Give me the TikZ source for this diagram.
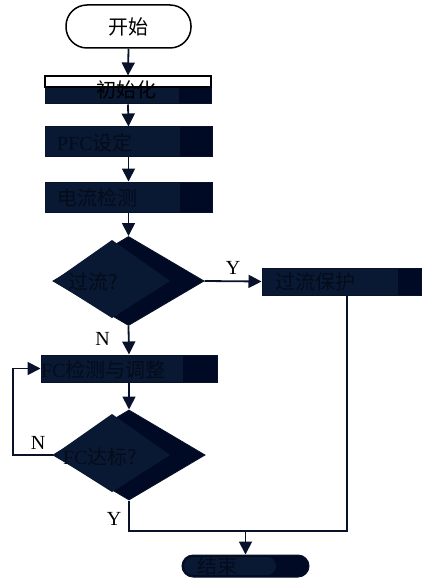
\documentclass[tikz,border=0pt]{standalone}
\usepackage{fontspec}
\setmainfont{Liberation Serif}
\newfontfamily\cjk{Noto Sans CJK SC}
\usetikzlibrary{arrows.meta,shapes.geometric}
\definecolor{darkB}{HTML}{000A24}
\definecolor{lightB}{HTML}{0A1933}
\definecolor{txtC}{HTML}{040B1A}
\definecolor{lineC}{HTML}{08122A}
\tikzset{
  arr/.style={draw=lineC, line width=1.8pt, -{Triangle[length=13pt,width=13pt]}},
  conn/.style={draw=lineC, line width=1.8pt},
  boxn/.style={draw=lineC, line width=1pt, rectangle, inner sep=0pt},
  dia/.style={draw=lineC, line width=1pt, diamond, inner sep=0pt, fill=darkB},
  txt/.style={text=txtC, inner sep=0pt, font=\fontsize{20}{24}\selectfont},
  lab/.style={text=black, inner sep=0pt, font=\fontsize{20}{24}\selectfont},
}
\begin{document}
\begin{tikzpicture}[x=1pt,y=-1pt]
\useasboundingbox (0,0) rectangle (424,580);
% start
\node[draw=black, line width=1.5pt, rounded corners=21pt, minimum width=125pt, minimum height=43pt, fill=white, inner sep=0pt,
  font=\fontsize{20}{24}\selectfont] (start) at (128.5,26.5) {\cjk 开始};
% init box
\fill[white] (45,76) rectangle (211,87);
\fill[darkB] (45,87) rectangle (211,104);
\fill[lightB] (45,87) rectangle (179,104);
\node[boxn, minimum width=166pt, minimum height=28pt] (init) at (128,90) {};
\draw[black, line width=1.2pt] (45,76) rectangle (211,87);
\node[txt, text=black] (tinit) at (126,90) {\cjk 初始化};
% PFC box
\fill[darkB] (45,127) rectangle (212,157);
\fill[lightB] (45,127) rectangle (180,157);
\node[boxn, minimum width=167pt, minimum height=30pt] (pfc) at (128.5,142) {};
\node[txt, anchor=west] (tpfc) at (57,143) {PFC\cjk 设定};
% current detect
\fill[darkB] (45,182) rectangle (212,212);
\fill[lightB] (45,182) rectangle (180,212);
\node[boxn, minimum width=167pt, minimum height=30pt] (cur) at (128.5,197) {};
\node[txt, anchor=west] (tcur) at (57,198) {\cjk 电流检测};
% diamond 1
\node[dia, minimum width=151pt, minimum height=89pt] (d1) at (128.5,281) {};
\fill[lightB] (53.5,281) -- (112,240) -- (170,281) -- (112,318) -- cycle;
\node[txt, anchor=west] (td1) at (68,282) {\cjk 过流?};
% protect box
\fill[darkB] (262,268) rectangle (421,295);
\fill[lightB] (262,268) rectangle (398,295);
\node[boxn, minimum width=159pt, minimum height=27pt] (prot) at (341.5,281.5) {};
\node[txt, anchor=west] (tprot) at (275,282) {\cjk 过流保护};
% FC box
\fill[darkB] (41,355) rectangle (217,382);
\fill[lightB] (41,355) rectangle (183,382);
\node[boxn, minimum width=176pt, minimum height=27pt] (fc) at (129,368.5) {};
\node[txt, anchor=west] (tfc) at (41,370) {FC\cjk 检测与调整};
% diamond 2
\node[dia, minimum width=152pt, minimum height=90pt] (d2) at (129,455) {};
\fill[lightB] (53.5,455) -- (112,414) -- (170,455) -- (112,492) -- cycle;
\node[txt, anchor=west] (td2) at (63,457) {FC\cjk 达标?};
% end
\node[draw=lineC, line width=1pt, rounded corners=11pt, minimum width=127pt, minimum height=22pt, fill=darkB, inner sep=0pt] (end) at (245.5,566) {};
\fill[lightB, rounded corners=9pt] (184,557) rectangle (276,575);
\node[txt] (tend) at (217,566) {\cjk 结束};
% connectors
\draw[arr] (start.south) -- (init.north);
\draw[arr] (init.south) -- (pfc.north);
\draw[arr] (pfc.south) -- (cur.north);
\draw[arr] (cur.south) -- (d1.north);
\draw[arr] (d1.east) -- node[lab, above=6pt, pos=0.5] (ly1) {Y} (prot.west);
\draw[arr] (d1.south) -- node[lab, left=18pt, pos=0.45] (ln1) {N} (fc.north);
\draw[arr] (fc.south) -- (d2.north);
\coordinate (lp) at (13,455);
\draw[arr] (d2.west) -- (lp) |- (fc.west);
\node[lab] (ln2) at (38,443) {N};
\coordinate (jl) at (129,531);
\coordinate (jr) at (347,531);
\draw[conn] (d2.south) -- (jl) -- (jr) -- (jr |- prot.south);
\node[lab] (ly2) at (114,519) {Y};
\draw[arr] (end.north |- jl) -- (end.north);
\end{tikzpicture}
\end{document}
